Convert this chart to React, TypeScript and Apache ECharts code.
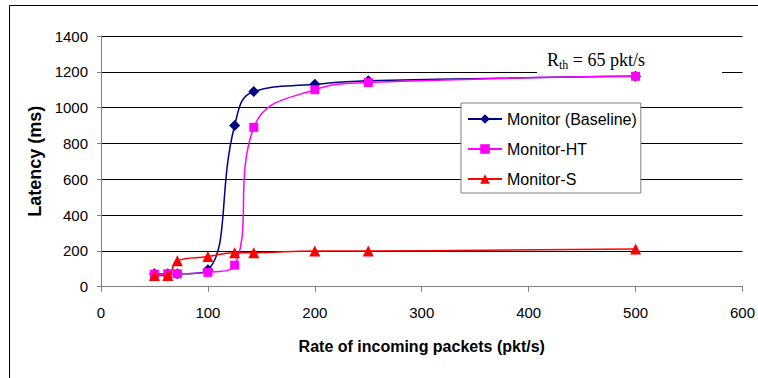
import React, { useEffect, useRef } from "react";
import * as echarts from "echarts";

const rates = [50, 62.5, 71.4, 100, 125, 142.9, 200, 250, 500];
const baseline = [72, 72, 72, 95, 900, 1090, 1130, 1150, 1175];
const monitorHT = [70, 72, 72, 80, 120, 890, 1100, 1140, 1175];
const monitorS = [62, 62, 145, 168, 190, 190, 200, 200, 210];
const seriesNames = ["Monitor (Baseline)", "Monitor-HT", "Monitor-S"];
const xTitle = "Rate of incoming packets (pkt/s)";
const yTitle = "Latency (ms)";

const pair = (ys: number[]) => rates.map((x, i) => [x, ys[i]]);

export default function App() {
  const ref = useRef<HTMLDivElement>(null);
  useEffect(() => {
    if (!ref.current) return;
    const chart = echarts.init(ref.current, null, { renderer: "svg" });
    const font = "Liberation Sans, Arial, sans-serif";
    chart.setOption({
      animation: false,
      backgroundColor: "#fff",
      textStyle: { fontFamily: font },
      grid: { left: 101, right: 13, top: 36, bottom: 91.3, containLabel: false },
      xAxis: {
        type: "value",
        min: 0,
        max: 600,
        interval: 100,
        name: xTitle,
        nameLocation: "middle",
        nameGap: 52,
        nameTextStyle: { fontFamily: font, fontSize: 16, fontWeight: "bold", color: "#000" },
        axisLine: { show: true, lineStyle: { color: "#808080", width: 1 } },
        axisTick: { show: true, length: 5, lineStyle: { color: "#808080" } },
        axisLabel: { fontFamily: font, fontSize: 15, color: "#000", margin: 18, formatter: (v: number) => String(v) },
        splitLine: { show: false },
      },
      yAxis: {
        type: "value",
        min: 0,
        max: 1400,
        interval: 200,
        name: yTitle,
        nameLocation: "middle",
        nameGap: 55,
        nameTextStyle: { fontFamily: font, fontSize: 18, fontWeight: "bold", color: "#000" },
        axisLine: { show: true, lineStyle: { color: "#808080", width: 1 } },
        axisTick: { show: true, length: 4, lineStyle: { color: "#808080" } },
        axisLabel: { fontFamily: font, fontSize: 15, color: "#000", margin: 13, formatter: (v: number) => String(v) },
        splitLine: { show: true, lineStyle: { color: "#000", width: 1 } },
      },
      legend: {
        orient: "vertical",
        left: 461,
        top: 103,
        data: seriesNames,
        backgroundColor: "#fff",
        borderColor: "#808080",
        borderWidth: 1,
        padding: [8, 4, 6, 6],
        itemGap: 14,
        itemWidth: 34,
        itemHeight: 12,
        textStyle: { fontFamily: font, fontSize: 16, color: "#000" },
      },
      graphic: [
        {
          type: "rect",
          z: 1,
          shape: { x: 9.5, y: 5.5, width: 800, height: 400 },
          style: { fill: "none", stroke: "#000", lineWidth: 1 },
          silent: true,
        },
        {
          type: "rect",
          z: 1,
          shape: { x: 537, y: 50, width: 185, height: 25 },
          style: { fill: "#fff" },
          silent: true,
        },
        {
          type: "text",
          z: 5,
          x: 547,
          y: 60,
          style: {
            text: "{r|R}{s|th}{r| = 65 pkt/s}",
            verticalAlign: "middle",
            rich: {
              r: { fontFamily: "Liberation Serif, Times New Roman, serif", fontSize: 18, lineHeight: 22, fill: "#000" },
              s: { fontFamily: "Liberation Serif, Times New Roman, serif", fontSize: 12, lineHeight: 14, verticalAlign: "bottom", fill: "#000" },
            },
          },
        },
      ],
      series: [
        {
          name: seriesNames[0],
          type: "line",
          smooth: 0.45,
          data: pair(baseline),
          symbol: "diamond",
          symbolSize: 11,
          itemStyle: { color: "#000080" },
          lineStyle: { color: "#000080", width: 1.5 },
          z: 2,
        },
        {
          name: seriesNames[1],
          type: "line",
          smooth: 0.45,
          data: pair(monitorHT),
          symbol: "rect",
          symbolSize: 9,
          itemStyle: { color: "#ff00ff" },
          lineStyle: { color: "#ff00ff", width: 1.5 },
          z: 3,
        },
        {
          name: seriesNames[2],
          type: "line",
          smooth: 0.45,
          data: pair(monitorS),
          symbol: "triangle",
          symbolSize: 11,
          itemStyle: { color: "#ff0000" },
          lineStyle: { color: "#ff0000", width: 1.5 },
          z: 4,
        },
      ],
    });
    return () => chart.dispose();
  }, []);
  return <div ref={ref} style={{ width: 758, height: 378, position: "absolute", left: 0, top: 0 }} />;
}
